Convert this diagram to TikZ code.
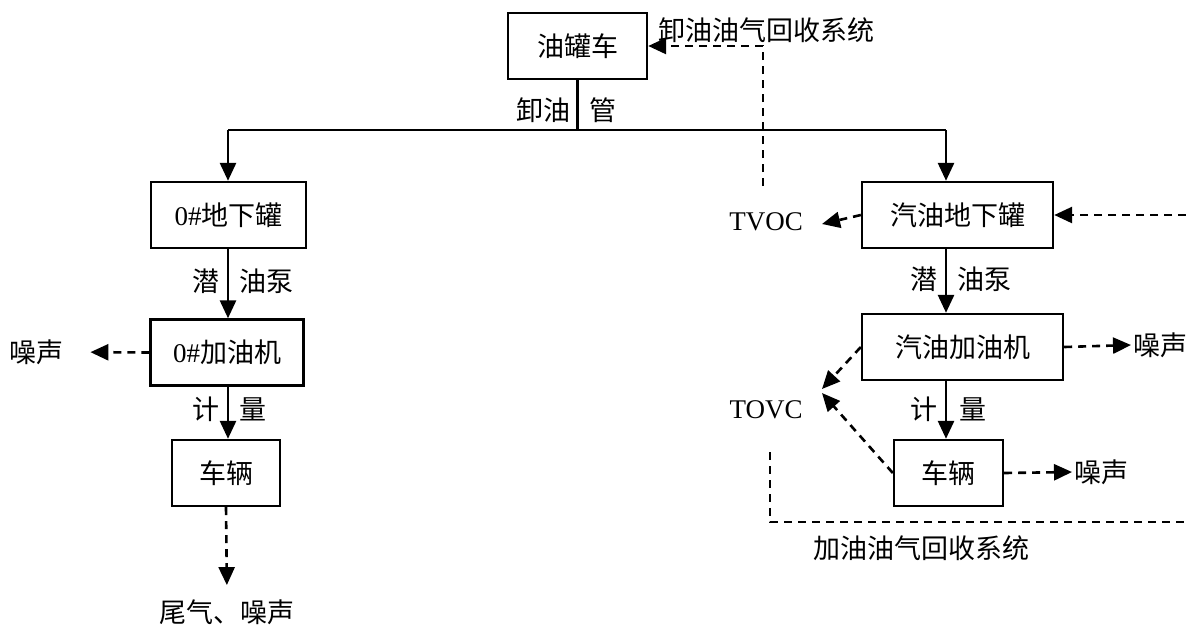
\documentclass[tikz,border=0pt]{standalone}
\usepackage{fontspec}
\setmainfont{Liberation Serif}
\newfontfamily\cjk{Noto Sans CJK SC}
\usetikzlibrary{arrows.meta}

\begin{document}
\begin{tikzpicture}[x=0.5pt,y=-0.5pt,
    box/.style={draw,line width=1.2pt,inner sep=0pt,minimum height=33pt,font=\fontsize{13.5}{16}\selectfont\cjk},
    lbl/.style={inner sep=1pt,font=\fontsize{13.5}{16}\selectfont\cjk},
    flow/.style={line width=1.4pt,-{Triangle[length=9pt,width=8pt]}},
    emit/.style={line width=1.3pt,dash pattern=on 4pt off 3pt,-{Triangle[length=9pt,width=8pt]}},
    loop/.style={line width=1.3pt,dash pattern=on 4pt off 3pt}]

\useasboundingbox (0,0) rectangle (1186,628);

% boxes
\node[box,minimum width=69.5pt] (tanker) at (577.5,46) {油罐车};
\node[box,minimum width=77.5pt] (ug0) at (228.5,215) {{\rmfamily 0\#}地下罐};
\node[box,minimum width=76.5pt] (disp0) at (227,352.5) {{\rmfamily 0\#}加油机};
\node[box,minimum width=54pt] (car0) at (226,473) {车辆};
\node[box,minimum width=95.5pt] (ugG) at (957.5,215) {汽油地下罐};
\node[box,minimum width=100.5pt] (dispG) at (962.5,347) {汽油加油机};
\node[box,minimum width=54.5pt] (carG) at (948.5,473) {车辆};

% labels
\node[lbl] (recv1) at (766,30) {卸油油气回收系统};
\node[lbl,anchor=east] (pipeA) at (573,110) {卸油};
\node[lbl,anchor=west] (pipeB) at (587,110) {管};
\node[lbl,anchor=east] (pumpA0) at (222,281) {潜};
\node[lbl,anchor=west] (pumpB0) at (237,281) {油泵};
\node[lbl,anchor=east] (pumpA1) at (940,279) {潜};
\node[lbl,anchor=west] (pumpB1) at (955,279) {油泵};
\node[lbl,anchor=east] (metA0) at (222,409) {计};
\node[lbl,anchor=west] (metB0) at (237,409) {量};
\node[lbl,anchor=east] (metA1) at (940,409) {计};
\node[lbl,anchor=west] (metB1) at (957,409) {量};
\node[lbl] (noise0) at (37,352) {噪声};
\node[lbl] (exh) at (227,612) {尾气、噪声};
\node[lbl,font=\fontsize{13.5}{16}\selectfont] (tvoc) at (766,222) {TVOC};
\node[lbl,font=\fontsize{13.5}{16}\selectfont] (tovc) at (766,410) {TOVC};
\node[lbl,anchor=west] (noise1) at (1131,345) {噪声};
\node[lbl,anchor=west] (noise2) at (1072,472) {噪声};
\node[lbl] (recv2) at (921,548) {加油油气回收系统};

\coordinate (jL) at (228,130);
\coordinate (jR) at (946,130);
\coordinate (rv) at (763,186);
\coordinate (rin) at (1186,215);
\coordinate (tvocin) at (822,224);
\coordinate (tovcin) at (822,389);
\coordinate (tovcin2) at (822,393);
\coordinate (lp) at (770,452);
\coordinate (lpend) at (1186,522);

% oil flow
\draw[line width=1.4pt] (tanker.south) -- (tanker.south |- jL);
\draw[line width=1.4pt] (jL) -- (jR);
\draw[flow] (jL) -- (jL |- ug0.north);
\draw[flow] (jR) -- (jR |- ugG.north);
\draw[flow] (ug0.south -| jL) -- (jL |- disp0.north);
\draw[flow] (disp0.south -| jL) -- (jL |- car0.north);
\draw[flow] (ugG.south -| jR) -- (jR |- dispG.north);
\draw[flow] (dispG.south -| jR) -- (jR |- carG.north);

% emissions
\draw[emit] (rv) |- (tanker.east);
\draw[emit] (ugG.west) -- (tvocin);
\draw[emit] (rin) -- (ugG.east);
\draw[emit,shorten >=12pt] (disp0.west) -- (noise0.east);
\draw[emit,shorten >=6pt] (car0.south) -- (exh.north);
\draw[emit] (dispG.west) -- (tovcin);
\draw[emit] (carG.west) -- (tovcin2);
\draw[emit] (dispG.east) -- (noise1.west);
\draw[emit] (carG.east) -- (noise2.west);
\draw[loop] (lp) |- (lpend);
\end{tikzpicture}
\end{document}
